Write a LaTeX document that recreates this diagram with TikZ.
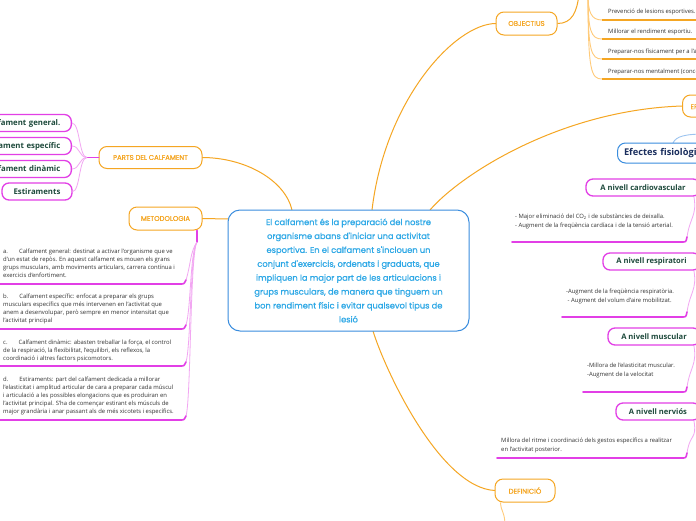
\documentclass[tikz,border=0pt]{standalone}
\usepackage{fontspec}
\setmainfont{Open Sans}
\newfontfamily\hand{Poppins}[FakeBold=0.8]
\definecolor{orgc}{HTML}{F5A623}
\definecolor{orgl}{HTML}{FFCB7A}
\definecolor{magc}{HTML}{E23FE6}
\definecolor{magl}{HTML}{F2A6F2}
\definecolor{bluec}{HTML}{3A8DDE}
\definecolor{bluel}{HTML}{9CC4F0}
\definecolor{cyanc}{HTML}{2EA8E6}
\definecolor{greent}{HTML}{1E4A3C}
\definecolor{navyt}{HTML}{1B2F5E}
\definecolor{smallt}{HTML}{333333}
\begin{document}
\begin{tikzpicture}[x=1pt,y=-1pt,
  topicbox/.style={draw=orgc,line width=1pt,rounded corners=8pt,fill=white,text=orgc,font=\hand\fontsize{6.9}{7}\selectfont,minimum height=22pt,inner sep=0pt},
  centralbox/.style={draw=bluec,line width=1pt,rounded corners=12pt,fill=white,text=cyanc,align=center,font=\hand\fontsize{8.3}{13.9}\selectfont,minimum width=241pt,minimum height=121pt,inner sep=0pt},
  magbox/.style={draw=magc,line width=1.3pt,rounded corners=7pt,fill=white,text=greent,font=\bfseries\fontsize{7.8}{9}\selectfont,minimum height=17pt,inner sep=0pt},
  rmagbox/.style={magbox,font=\bfseries\fontsize{7.6}{9}\selectfont},
  smalltext/.style={text=smallt,font=\fontsize{5.9}{8.1}\selectfont,align=left,inner sep=0pt,anchor=north west},
  rsmall/.style={smalltext,font=\fontsize{5.9}{9}\selectfont},
  orgline/.style={draw=orgc,line width=1pt},
  orgthin/.style={draw=orgl,line width=0.9pt},
  magline/.style={draw=magc,line width=1.6pt,line cap=round},
  magthin/.style={draw=magl,line width=0.8pt},
  orgunder/.style={draw=orgc,line width=1.2pt},
]
\useasboundingbox (0,0) rectangle (696,520);
\fill[white] (0,0) rectangle (696,520);

% ---------- coordinates on the central box and free ends
\coordinate (c1) at (292,210);
\coordinate (c2) at (230,219);
\coordinate (c3) at (372,210);
\coordinate (c4) at (430,210);
\coordinate (c5) at (373,331);
\coordinate (objup) at (579,-6);
\coordinate (itemsup) at (588,-6);
\coordinate (defdown) at (505,526);
\coordinate (efup) at (706,134);

% ---------- main connectors (drawn first)
\draw[orgline] (c1) .. controls (285,180) and (245,157.5) .. (202,157.5) coordinate (partsE);
\draw[orgline] (c2) .. controls (220,219) and (210,218.5) .. (202,218.5) coordinate (metE);
\draw[orgline] (c3) .. controls (385,100) and (455,23.5) .. (496,23.5) coordinate (objW);
\draw[orgline] (c4) .. controls (460,175) and (560,110) .. (682,106) coordinate (efW);
\draw[orgline] (c5) .. controls (385,370) and (440,488) .. (495,490.5) coordinate (defW);

% ---------- central node
\node[centralbox] (c) at (348.5,270.5) {El calfament és la preparació del nostre\\organisme abans d'iniciar una activitat\\esportiva. En el calfament s'inclouen un\\conjunt d'exercicis, ordenats i graduats, que\\impliquen la major part de les articulacions i\\grups musculars, de manera que tinguem un\\bon rendiment físic i evitar qualsevol tipus de\\lesió};

% ---------- topic nodes
\node[topicbox,minimum width=103pt] (parts) at (150.5,157.5) {PARTS DEL CALFAMENT};
\node[topicbox,minimum width=73pt,minimum height=23pt] (met) at (165.5,218.5) {METODOLOGIA};
\node[topicbox,minimum width=61pt,minimum height=23pt] (obj) at (526.5,23.5) {OBJECTIUS};
\node[topicbox,minimum width=60pt,minimum height=23pt] (def) at (525,490.5) {DEFINICIÓ};
\node[topicbox,anchor=west,inner xsep=8pt] (ef) at (682,106) {EFECTES FISIOLÒGICS};

% ---------- objectius branch
\draw[orgline] (obj.east) .. controls (572,23.5) and (577,12) .. (objup);
\foreach \y/\n in {20/1,39/2,59/3,79/4}{
  \coordinate (ou\n) at (602,\y);
  \draw[orgthin] (itemsup) .. controls (588,\y-8) and (591,\y) .. (ou\n);
  \draw[orgunder] (ou\n) -- (705,\y);
}
\node[smalltext,anchor=west] (o1) at (608,12) {Prevenció de lesions esportives.};
\node[smalltext,anchor=west] (o2) at (608,32) {Millorar el rendiment esportiu.};
\node[smalltext,anchor=west] (o3) at (608,52) {Preparar-nos físicament per a l'activitat};
\node[smalltext,anchor=west] (o4) at (608,72) {Preparar-nos mentalment (concentració)};

% ---------- parts del calfament children
\coordinate (pj) at (87,157.5);
\draw[magline] (parts.west) -- (pj);
\node[magbox,anchor=east,minimum width=102pt,text width=80pt,align=right] (p1) at (72,123) {Calfament general.};
\node[magbox,anchor=east,minimum width=102pt,text width=80pt,align=right] (p2) at (72,146) {Calfament específic};
\node[magbox,anchor=east,minimum width=102pt,text width=80pt,align=right] (p3) at (72,169) {Calfament dinàmic};
\node[magbox,minimum width=70pt] (p4) at (37,191.5) {Estiraments};
\foreach \n in {p1,p2,p3,p4}{
  \draw[magthin] (pj) .. controls (79,157.5) and (80,0|-\n.east) .. (\n.east);
}

% ---------- metodologia children
\coordinate (mt) at (197,242);
\draw[magline] (197,230.5) -- (mt);
\node[smalltext] (m1) at (3,248.5) {a.\hspace{11pt}Calfament general: destinat a activar l'organisme que ve\\d'un estat de repòs. En aquest calfament es mouen els grans\\grups musculars, amb moviments articulars, carrera contínua i\\exercicis d'enfortiment.};
\node[smalltext] (m2) at (3,293.5) {b.\hspace{11pt}Calfament específic: enfocat a preparar els grups\\musculars específics que més intervenen en l'activitat que\\anem a desenvolupar, però sempre en menor intensitat que\\l'activitat principal};
\node[smalltext] (m3) at (3,339.5) {c.\hspace{11pt}Calfament dinàmic: abasten treballar la força, el control\\de la respiració, la flexibilitat, l'equilibri, els reflexos, la\\coordinació i altres factors psicomotors.};
\node[smalltext] (m4) at (3,376.5) {d.\hspace{11pt}Estiraments: part del calfament dedicada a millorar\\l'elasticitat i amplitud articular de cara a preparar cada múscul\\i articulació a les possibles elongacions que es produiran en\\l'activitat principal. S'ha de començar estirant els músculs de\\major grandària i anar passant als de més xicotets i específics.};
\foreach \y/\n in {284/1,329/2,366/3,420/4}{
  \coordinate (mu\n) at (186,\y-4);
  \draw[magthin] (mt) .. controls (190,252) and (191,\y-20) .. (mu\n);
  \draw[magline] (-5,\y) -- (180,\y) .. controls (184,\y) .. (mu\n);
}

% ---------- efectes fisiologics
\draw[draw=bluel,line width=0.9pt] (673,143) .. controls (676,136) and (686,134) .. (efup);
\node[draw=bluec,line width=1pt,rounded corners=8pt,fill=white,text=navyt,font=\bfseries\fontsize{9.3}{10}\selectfont,minimum height=20pt,minimum width=140pt,anchor=west,inner sep=0pt,text width=127pt,align=left] (efx) at (617,153) {Efectes fisiològics};

% ---------- right magenta boxes
\node[rmagbox,minimum width=114pt] (cv) at (643,187.5) {A nivell cardiovascular};
\node[rmagbox,minimum width=97pt] (rs) at (651.5,261.5) {A nivell respiratori};
\node[rmagbox,minimum width=92pt] (ms) at (654,336.5) {A nivell muscular};
\node[rmagbox,minimum width=84pt] (nv) at (658,411.5) {A nivell nerviós};

\node[rsmall] (cvt) at (515,213.5) {- Major eliminació del CO\textsubscript{2} i de substàncies de deixalla.\\- Augment de la freqüència cardíaca i de la tensió arterial.};
\node[rsmall] (rst) at (566,288.5) {-Augment de la freqüència respiratòria.\\\ - Augment del volum d'aire mobilitzat.};
\node[rsmall] (mst) at (587,362.5) {-Millora de l'elasticitat muscular.\\-Augment de la velocitat};
\node[rsmall] (nvt) at (501,437.5) {Millora del ritme i coordinació dels gestos específics a realitzar\\en l'activitat posterior.};

\foreach \b/\yb/\ya/\xa in {cv/196/242/512, rs/270/317/562, ms/345/392/583, nv/420/458/497}{
  \coordinate (\b top) at (694,\yb+1);
  \coordinate (\b end) at (687,\ya-5);
  \draw[magthin] (\b top) .. controls (697,\yb+20) and (690,\ya-25) .. (\b end);
  \draw[magline] (\xa,\ya) -- (682,\ya) .. controls (686,\ya) .. (\b end);
}

% ---------- definicio child
\draw[orgthin] (def.south west) ++(6,0) coordinate (defS) .. controls (501,512) and (505,512) .. (defdown);
\end{tikzpicture}
\end{document}
